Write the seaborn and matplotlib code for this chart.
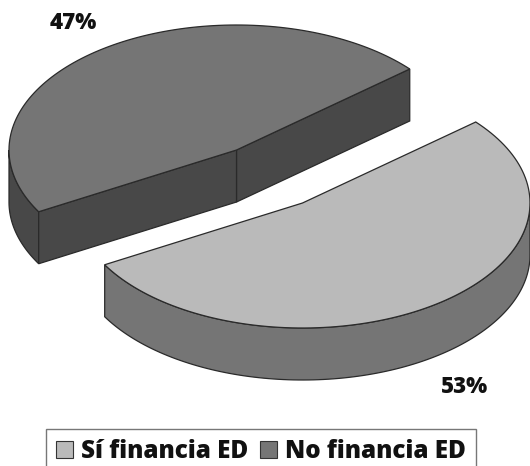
import numpy as np
import matplotlib
matplotlib.use("Agg")
import matplotlib.pyplot as plt
from matplotlib.patches import Patch
import seaborn as sns

# Data
categories = ["Sí financia ED", "No financia ED"]
shares = [53, 47]
share_labels = ["53%", "47%"]

# Style (not data)
top_colors = ["#bababa", "#757575"]
side_colors = ["#757575", "#484848"]
edge = "#2a2a2a"
start_angle = 40.4
centers = [(302.5, 203), (236.5, 150)]
rx, ry, depth = 227.5, 125, 52
label_pos = [(465, 387), (73, 23)]

sns.set_theme(style="white")
plt.rcParams["font.family"] = ["Open Sans", "DejaVu Sans"]
fig = plt.figure(figsize=(5.30, 4.66), dpi=100)
ax = fig.add_axes([0, 0, 1, 1])
ax.set_xlim(0, 530)
ax.set_ylim(466, 0)
ax.axis("off")


def rim(c, a0, a1, n=120):
    t = np.radians(np.linspace(a0, a1, n))
    return c[0] + rx * np.cos(t), c[1] - ry * np.sin(t)


fractions = np.array(shares) / sum(shares)
# first slice runs clockwise from the start angle, the second anticlockwise
spans = [(start_angle, start_angle - 360 * fractions[0]),
         (start_angle, start_angle + 360 * fractions[1])]
lw = 0.9

for i, (c, (a0, a1)) in enumerate(zip(centers, spans)):
    lo, hi = min(a0, a1), max(a0, a1)
    # outer wall: the part of the rim on the near (lower) half
    if i == 0:
        v0, v1 = lo, min(hi, 0)
    else:
        v0, v1 = 180, hi
    x, y = rim(c, v0, v1)
    ax.fill(np.r_[x, x[::-1]], np.r_[y, y[::-1] + depth],
            fc=side_colors[i], ec=edge, lw=lw, zorder=2)
    ex, ey = rim(c, a0, a1)
    if i == 1:
        # cut faces that look towards the viewer
        for px, py in [(ex[0], ey[0]), (ex[-1], ey[-1])]:
            ax.fill([c[0], px, px, c[0]], [c[1], py, py + depth, c[1] + depth],
                    fc=side_colors[i], ec=edge, lw=lw, zorder=2)
    ax.fill(np.r_[c[0], ex], np.r_[c[1], ey], fc=top_colors[i], ec=edge, lw=lw, zorder=3)
    ax.text(*label_pos[i], share_labels[i], ha="center", va="center",
            fontsize=16, fontweight="extra bold", color="#111111")

handles = [Patch(fc=col, ec="#333333", lw=0.8, label=cat)
           for col, cat in zip(top_colors, categories)]
leg = ax.legend(handles=handles, ncol=2, loc="lower left",
                bbox_to_anchor=(46 / 530, -8 / 466), borderaxespad=0,
                fontsize=17.5, frameon=True, fancybox=False, edgecolor="#777777",
                framealpha=1, handlelength=0.68, handleheight=0.68,
                handletextpad=0.33, columnspacing=0.5, borderpad=0.42)
for t in leg.get_texts():
    t.set_fontweight("extra bold")
    t.set_color("#111111")

fig.savefig("out.png", dpi=100)
